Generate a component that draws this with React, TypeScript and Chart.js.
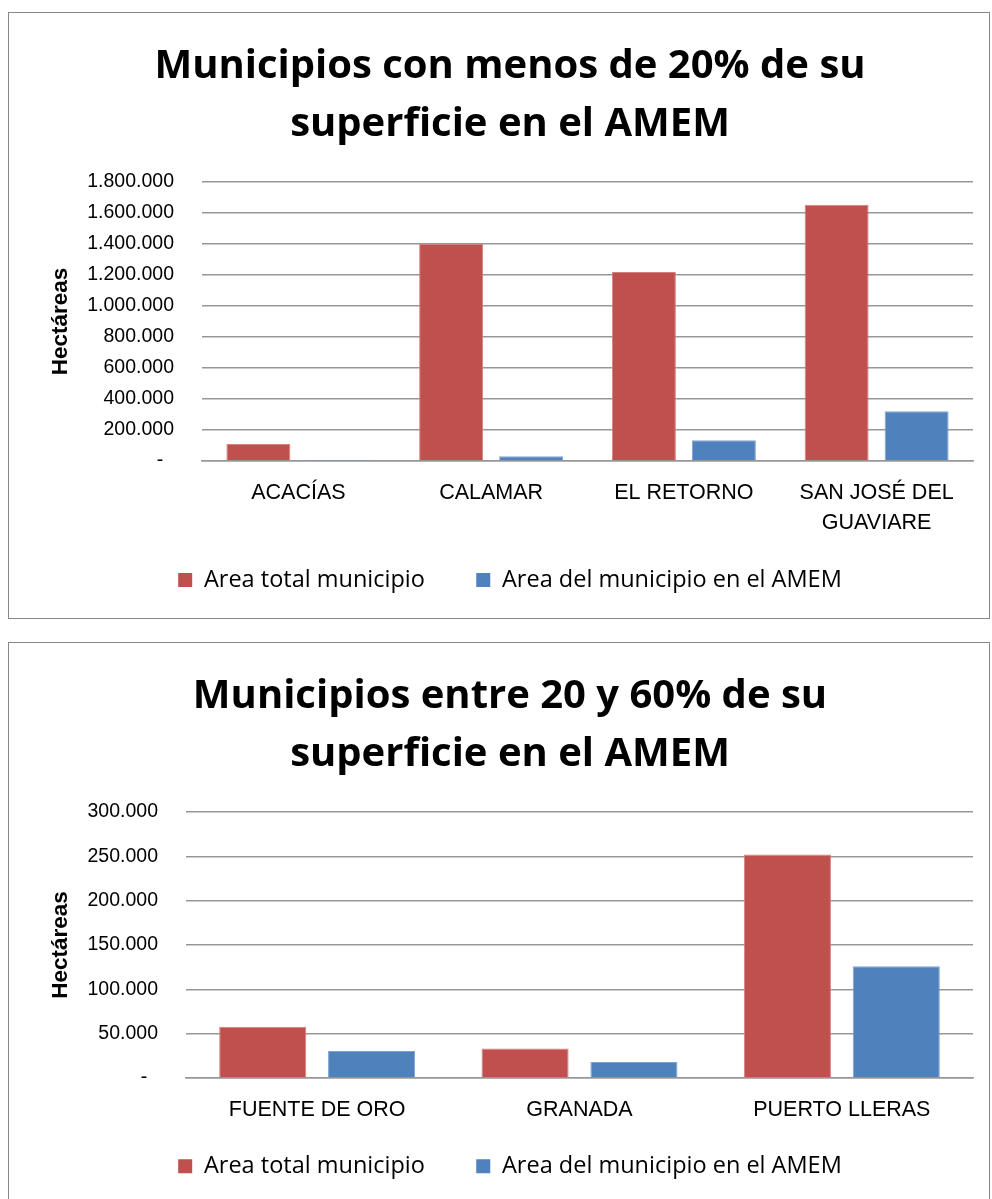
import React, { useEffect, useRef } from 'react';
import { Chart, registerables } from 'chart.js';

Chart.register(...registerables);

// ---- Data ----
const seriesNames = ['Area total municipio', 'Area del municipio en el AMEM'];
const yAxisTitle = 'Hectáreas';

const topTitle = ['Municipios con menos de 20% de su', 'superficie en el AMEM'];
const topCategories: (string | string[])[] = ['ACACÍAS', 'CALAMAR', 'EL RETORNO', ['SAN JOSÉ DEL', 'GUAVIARE']];
const topTotal = [110000, 1400000, 1220000, 1653000];
const topAmem = [1500, 30000, 134000, 321000];
const topMax = 1800000;
const topStep = 200000;

const bottomTitle = ['Municipios entre 20 y 60% de su', 'superficie en el AMEM'];
const bottomCategories: (string | string[])[] = ['FUENTE DE ORO', 'GRANADA', 'PUERTO LLERAS'];
const bottomTotal = [57700, 33200, 252000];
const bottomAmem = [30500, 18100, 126000];
const bottomMax = 300000;
const bottomStep = 50000;

// ---- Styles ----
const RED = '#C0504D';
const BLUE = '#4F81BD';
const GRID = '#979797';
const CANVAS_W = 980;
const CANVAS_H = 605;
// extra horizontal gap after the first legend entry (em + en + normal space)
const LEGEND_GAP = '\u2003\u2002 ';

const fmt = (v: number | string) => {
  const n = Number(v);
  if (n === 0) return '-  ';
  return Math.round(n).toString().replace(/\B(?=(\d{3})+(?!\d))/g, '.');
};

interface BoxProps {
  top: number;
  title: string[];
  categories: (string | string[])[];
  total: number[];
  amem: number[];
  max: number;
  step: number;
  yWidth: number;
  xHeight: number;
  padBottom: number;
}

function ChartBox(p: BoxProps) {
  const ref = useRef<HTMLCanvasElement | null>(null);
  useEffect(() => {
    if (!ref.current) return;
    const chart = new Chart(ref.current, {
      type: 'bar',
      data: {
        labels: p.categories as any,
        datasets: [
          {
            label: seriesNames[0],
            data: p.total,
            backgroundColor: RED,
            borderColor: '#D3807E',
            borderWidth: 1,
            categoryPercentage: 0.83,
            barPercentage: 0.8,
          },
          {
            label: seriesNames[1],
            data: p.amem,
            backgroundColor: BLUE,
            borderColor: '#7FA3D0',
            borderWidth: 1,
            categoryPercentage: 0.83,
            barPercentage: 0.8,
          },
        ],
      },
      options: {
        responsive: false,
        animation: false,
        devicePixelRatio: 1,
        layout: { padding: { left: 38, right: 16, top: 0, bottom: p.padBottom } },
        plugins: {
          title: {
            display: true,
            text: p.title,
            color: '#000',
            font: { family: 'Open Sans', weight: 'bold', size: 40, lineHeight: 58 / 40 },
            padding: { top: 25, bottom: 28 },
          },
          legend: {
            position: 'bottom',
            labels: {
              boxWidth: 14,
              boxHeight: 14,
              padding: 10,
              color: '#000',
              font: { family: 'Open Sans', size: 23.5 },
              generateLabels: (ch: any) => {
                const items = Chart.defaults.plugins.legend.labels.generateLabels(ch);
                return items.map((it: any, i: number) => ({
                  ...it,
                  lineWidth: 0,
                  text: i === 0 ? it.text + LEGEND_GAP : it.text,
                }));
              },
            },
          },
          tooltip: { enabled: false },
        },
        scales: {
          x: {
            grid: { display: false, drawTicks: false },
            border: { display: true, color: GRID, width: 1.5 },
            ticks: {
              color: '#000',
              font: { family: 'Liberation Sans', size: 21.5, lineHeight: 1.4 },
              padding: 17,
              maxRotation: 0,
              autoSkip: false,
            },
            afterFit: (s: any) => {
              s.height = p.xHeight;
            },
          },
          y: {
            min: 0,
            max: p.max,
            ticks: {
              stepSize: p.step,
              color: '#000',
              font: { family: 'Liberation Sans', size: 19.5 },
              padding: 28,
              callback: (v: any) => fmt(v),
            },
            grid: { color: GRID, lineWidth: 1.5, drawTicks: false },
            border: { display: false },
            title: {
              display: true,
              text: yAxisTitle,
              color: '#000',
              font: { family: 'Liberation Sans', weight: 'bold', size: 22.5, lineHeight: 1.2 },
              padding: { top: 0, bottom: 0 },
            },
            afterFit: (s: any) => {
              s.width = p.yWidth;
            },
          },
        },
      } as any,
    });
    return () => chart.destroy();
  }, []);

  return (
    <div
      style={{
        position: 'absolute',
        left: 8,
        top: p.top,
        width: 982,
        height: 607,
        border: '1px solid #888',
        boxSizing: 'border-box',
        background: '#fff',
      }}
    >
      <canvas
        ref={ref}
        width={CANVAS_W}
        height={CANVAS_H}
        style={{ position: 'absolute', left: 0, top: 0, width: CANVAS_W, height: CANVAS_H }}
      />
    </div>
  );
}

export default function App() {
  return (
    <div
      style={{
        position: 'absolute',
        left: 0,
        top: 0,
        width: 992,
        height: 1199,
        overflow: 'hidden',
        background: '#fff',
      }}
    >
      <ChartBox
        top={12}
        title={topTitle}
        categories={topCategories}
        total={topTotal}
        amem={topAmem}
        max={topMax}
        step={topStep}
        yWidth={155}
        xHeight={97.25}
        padBottom={16.25}
      />
      <ChartBox
        top={642}
        title={bottomTitle}
        categories={bottomCategories}
        total={bottomTotal}
        amem={bottomAmem}
        max={bottomMax}
        step={bottomStep}
        yWidth={139}
        xHeight={66.5}
        padBottom={60}
      />
    </div>
  );
}
